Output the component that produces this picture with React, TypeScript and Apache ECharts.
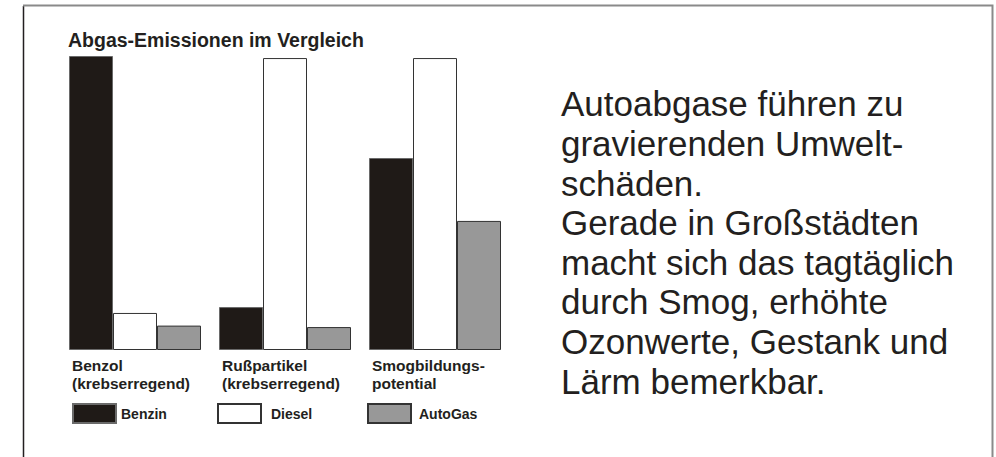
import React, { useEffect, useRef } from "react";
import * as echarts from "echarts";

const title = "Abgas-Emissionen im Vergleich";
const categories = ["Benzol\n(krebserregend)", "Rußpartikel\n(krebserregend)", "Smogbildungs-\npotential"];
const seriesNames = ["Benzin", "Diesel", "AutoGas"];
const benzin = [100, 14.6, 65.3];
const diesel = [12.6, 99.3, 99.3];
const autoGas = [8.3, 7.8, 43.9];
const sideText = [
  "Autoabgase führen zu",
  "gravierenden Umwelt-",
  "schäden.",
  "Gerade in Großstädten",
  "macht sich das tagtäglich",
  "durch Smog, erhöhte",
  "Ozonwerte, Gestank und",
  "Lärm bemerkbar.",
];

const FONT = "'Liberation Sans', Arial, Helvetica, sans-serif";
const INK = "#231f20";

export default function App() {
  const ref = useRef<HTMLDivElement>(null);
  useEffect(() => {
    if (!ref.current) return;
    const chart = echarts.init(ref.current, undefined, { renderer: "svg" });
    const colors = ["#1f1a17", "#ffffff", "#989898"];
    const borders = ["#6a6a6a", "#333333", "#333333"];
    const data = [benzin, diesel, autoGas];
    const legendLefts = [72, 217, 367];
    const legendPad = [0, 5, 3];
    chart.setOption({
      animation: false,
      backgroundColor: "#ffffff",
      title: {
        text: title,
        left: 63,
        top: 25,
        textStyle: { fontFamily: FONT, fontSize: 19.5, fontWeight: "bold", color: INK },
      },
      grid: { left: 60, width: 450, top: 56, bottom: 107, containLabel: false },
      xAxis: {
        type: "category",
        data: categories,
        axisLine: { show: false },
        axisTick: { show: false },
        splitLine: { show: false },
        axisLabel: {
          margin: 6,
          interval: 0,
          formatter: (v: string) =>
            v
              .split("\n")
              .map((s) => "{a|" + s + "}")
              .join("\n"),
          rich: {
            a: {
              width: 126,
              align: "left",
              fontFamily: FONT,
              fontSize: 15.5,
              fontWeight: "bold",
              color: INK,
              lineHeight: 18,
            },
          },
        },
      },
      yAxis: {
        type: "value",
        min: 0,
        max: 100,
        show: false,
        splitLine: { show: false },
      },
      legend: seriesNames.map((n, i) => ({
        data: [n],
        left: legendLefts[i],
        top: 403,
        itemWidth: 43,
        itemHeight: 19,
        icon: "rect",
        padding: 0,
        selectedMode: false,
        textStyle: {
          fontFamily: FONT,
          fontSize: 14,
          fontWeight: "bold",
          color: INK,
          padding: [0, 0, 0, legendPad[i]],
        },
      })),
      series: seriesNames.map((n, i) => ({
        name: n,
        type: "bar",
        data: data[i],
        barWidth: 44,
        barGap: "0%",
        itemStyle: { color: colors[i], borderColor: borders[i], borderWidth: 1 },
      })),
      graphic: [
        {
          type: "line",
          shape: { x1: 23.5, y1: 6, x2: 23.5, y2: 457 },
          style: { stroke: INK, lineWidth: 1.5 },
        },
        {
          type: "polyline",
          shape: { points: [[23, 5.5], [992.5, 5.5], [992.5, 457]] },
          style: { stroke: "#8a8a8a", lineWidth: 2, fill: null },
        },
        {
          type: "text",
          x: 561,
          y: 84,
          style: {
            text: sideText.join("\n"),
            fontFamily: FONT,
            fontSize: 35,
            lineHeight: 39.6,
            fill: INK,
            textVerticalAlign: "top",
            verticalAlign: "top",
          },
        },
      ],
    });
    return () => chart.dispose();
  }, []);
  return (
    <div
      ref={ref}
      style={{ position: "fixed", left: 0, top: 0, width: 996, height: 457, background: "#fff" }}
    />
  );
}
